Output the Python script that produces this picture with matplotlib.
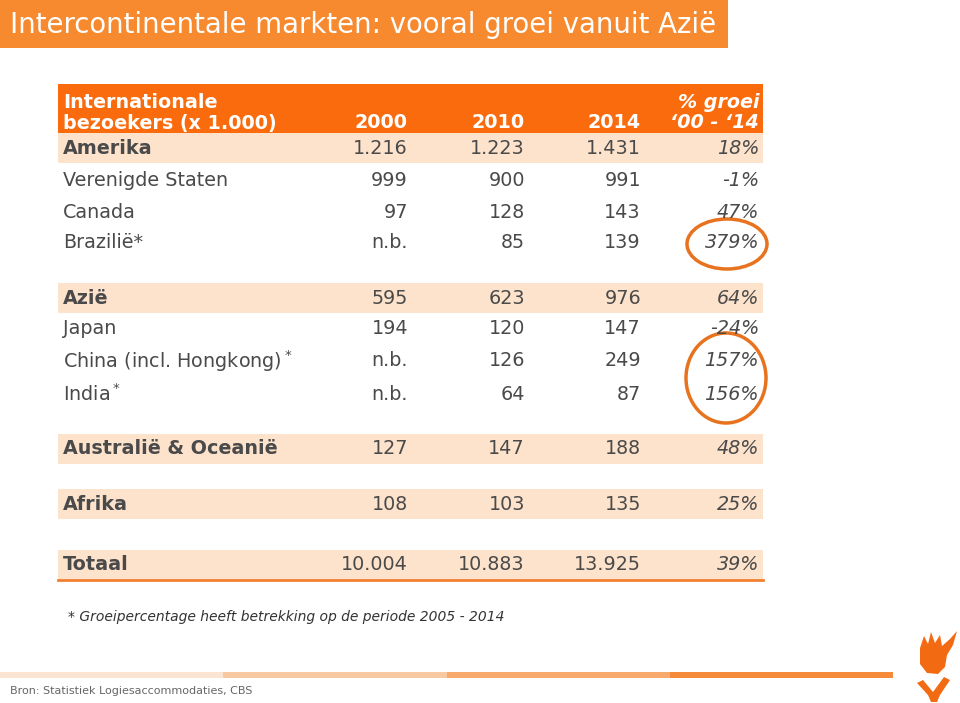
import matplotlib.pyplot as plt
from matplotlib.patches import Rectangle, Ellipse, Polygon

# table data (x 1.000 visitors)
regions = ['Amerika', 'Verenigde Staten', 'Canada', 'Brazilië*',
           'Azië', 'Japan', 'China (incl. Hongkong)$^*$', 'India$^*$',
           'Australië & Oceanië', 'Afrika', 'Totaal']
v2000 = [1216, 999, 97, None, 595, 194, None, None, 127, 108, 10004]
v2010 = [1223, 900, 128, 85, 623, 120, 126, 64, 147, 103, 10883]
v2014 = [1431, 991, 143, 139, 976, 147, 249, 87, 188, 135, 13925]
growth = [18, -1, 47, 379, 64, -24, 157, 156, 48, 25, 39]
is_total = [True, False, False, False, True, False, False, False, True, True, True]

years = ['2000', '2010', '2014']


def fmt(v):
    if v is None:
        return 'n.b.'
    return f'{v:,}'.replace(',', '.')


ORANGE = '#F96B0C'
TITLE_BG = '#F7892F'
BAND = '#FDE2CC'
TXT = '#4A4A4A'

plt.rcParams['mathtext.fontset'] = 'dejavusans'

fig = plt.figure(figsize=(9.6, 7.03), dpi=100)
ax = fig.add_axes([0, 0, 1, 1])
ax.set_xlim(0, 960)
ax.set_ylim(703, 0)
ax.axis('off')

# title bar
ax.add_patch(Rectangle((0, 0), 728, 48, color=TITLE_BG, lw=0))
ax.text(10, 25, 'Intercontinentale markten: vooral groei vanuit Azië',
        color='white', fontsize=19.8, va='center', ha='left')

# header
x0, x1 = 58, 763
col_x = [408, 525, 641, 759]
ax.add_patch(Rectangle((x0, 84), x1 - x0, 52, color=ORANGE, lw=0))
hdr = dict(color='white', fontsize=13.8, fontweight='bold', va='center')
ax.text(63, 103, 'Internationale', ha='left', **hdr)
ax.text(63, 123, 'bezoekers (x 1.000)', ha='left', **hdr)
for cx, y in zip(col_x, years):
    ax.text(cx, 123, y, ha='right', **hdr)
ax.text(col_x[3], 103, '% groei', ha='right', style='italic', **hdr)
ax.text(col_x[3], 123, '‘00 - ‘14', ha='right', style='italic', **hdr)

# rows
row_y = [148, 180, 212, 243, 298, 329, 361, 394, 449, 504, 565]
for i, name in enumerate(regions):
    y = row_y[i]
    if is_total[i]:
        ax.add_patch(Rectangle((x0, y - 15), x1 - x0, 30, color=BAND, lw=0))
    w = 'bold' if is_total[i] else 'normal'
    ax.text(63, y, name, ha='left', va='center', color=TXT,
            fontsize=13.8, fontweight=w)
    for cx, v in zip(col_x[:3], (v2000[i], v2010[i], v2014[i])):
        ax.text(cx, y, fmt(v), ha='right', va='center', color=TXT, fontsize=13.8)
    ax.text(col_x[3], y, f'{growth[i]}%', ha='right', va='center',
            color=TXT, fontsize=13.8, style='italic')

# line under total
ax.plot([x0, x1], [580, 580], color='#F08030', lw=2)

# highlight circles
ax.add_patch(Ellipse((727, 244), 80, 50, fill=False, ec='#E8731F', lw=2.5))
ax.add_patch(Ellipse((726, 378), 80, 90, fill=False, ec='#E8731F', lw=2.5))

# footnote
ax.text(68, 617, '* Groeipercentage heeft betrekking op de periode 2005 - 2014',
        ha='left', va='center', color='#333333', fontsize=10, style='italic')

# bottom stripe
stripe_cols = ['#FCE4D2', '#F9C9A2', '#F7AA6C', '#F58B3A']
for k, c in enumerate(stripe_cols):
    ax.add_patch(Rectangle((k * 223.3, 672), 223.3, 6, color=c, lw=0))
ax.text(10, 691, 'Bron: Statistiek Logiesaccommodaties, CBS', ha='left',
        va='center', color='#666666', fontsize=8)

# tulip logo
flower = [(920, 648), (924, 636), (928, 644), (931, 632), (935, 643),
          (940, 635), (942, 646), (950, 639), (957, 631), (953, 645),
          (947, 655), (945, 667), (938, 674), (927, 673), (920, 664)]
ax.add_patch(Polygon(flower, closed=True, color='#F26B12', lw=0))
stem = [(917, 683), (923, 680), (933, 692), (944, 677), (950, 680),
        (940, 695), (937, 702), (931, 702), (928, 695)]
ax.add_patch(Polygon(stem, closed=True, color='#F26B12', lw=0))

fig.savefig('out.png', dpi=100)
